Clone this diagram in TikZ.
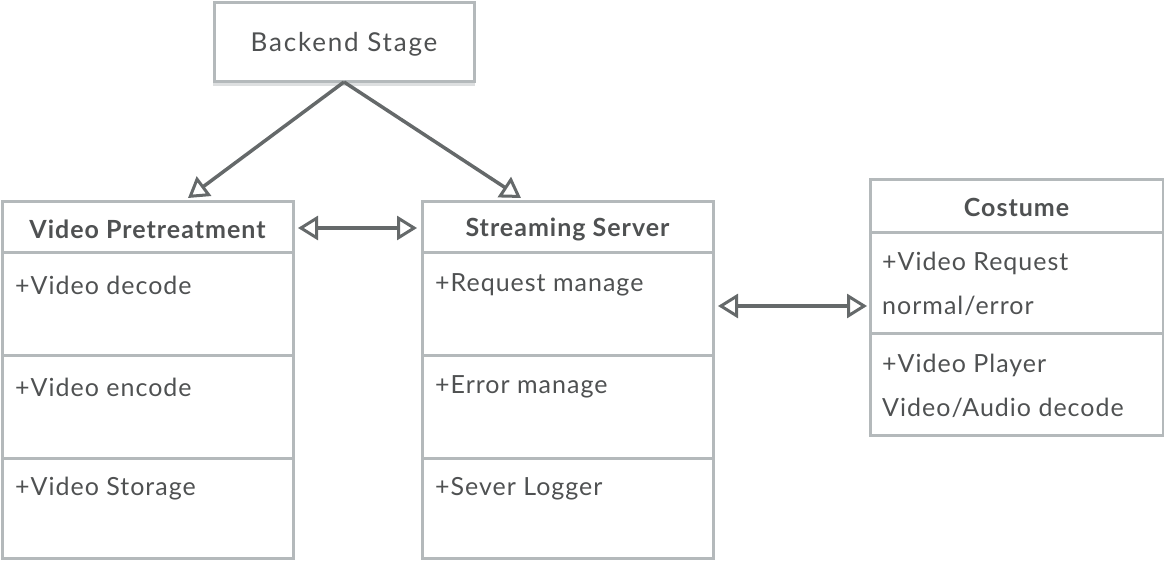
\documentclass[tikz,border=0pt]{standalone}
\usepackage{fontspec}
\setmainfont{Lato}[LetterSpace=4]
\newfontfamily\bsfont{Lato}[LetterSpace=7]
\usetikzlibrary{arrows.meta}
\definecolor{bord}{HTML}{B4B9BB}
\definecolor{txt}{HTML}{4F5152}
\definecolor{arr}{HTML}{65696A}
\definecolor{shad}{HTML}{DDDFE0}
\begin{document}
\begin{tikzpicture}[x=1pt,y=-1pt,
  boxline/.style={draw=bord,line width=3pt},
  title/.style={font=\fontsize{25}{29}\selectfont\bfseries,text=txt,inner sep=0pt},
  body/.style={font=\fontsize{25}{29}\selectfont,text=txt,anchor=west,inner sep=0pt},
  conn/.style={draw=arr,line width=3.5pt,-{Triangle[open,length=20pt,width=24pt,line width=3pt]}},
  dconn/.style={draw=arr,line width=3.5pt,{Triangle[open,length=20pt,width=24pt,line width=3pt]}-{Triangle[open,length=20pt,width=24pt,line width=3pt]}}]
\useasboundingbox (0,0) rectangle (1164,564);
% Backend Stage
\fill[shad] (213,80) rectangle (475,86);
\node[boxline,fill=white,minimum width=260pt,minimum height=79pt,inner sep=0pt] (bs) at (344,42) {};
\node[text=txt,inner sep=0pt,font=\bsfont\fontsize{26}{30}\selectfont] (bst) at (344,44) {Backend Stage};
% Video Pretreatment
\draw[boxline] (2,202) rectangle (293,558);
\draw[boxline] (2,252) -- (293,252) (2,355) -- (293,355) (2,458) -- (293,458);
\node[minimum width=291pt,minimum height=50pt,inner sep=0pt] (vp) at (147.5,227) {};
\node[title] (vpt) at (147.5,229) {Video Pretreatment};
\node[body] (vp1) at (15,285) {+Video decode};
\node[body] (vp2) at (15,387) {+Video encode};
\node[body] (vp3) at (15,489) {+Video Storage};
% Streaming Server
\draw[boxline] (422,202) rectangle (713,558);
\draw[boxline] (422,252) -- (713,252) (422,355) -- (713,355) (422,458) -- (713,458);
\node[minimum width=291pt,minimum height=50pt,inner sep=0pt] (ss) at (567.5,227) {};
\node[title] (sst) at (567.5,229) {Streaming Server};
\node[body] (ss1) at (435,285) {+Request manage};
\node[body] (ss2) at (435,387) {+Error manage};
\node[body] (ss3) at (435,489) {+Sever Logger};
% Costume
\draw[boxline] (870,180) rectangle (1163,435);
\draw[boxline] (870,232) -- (1163,232) (870,333) -- (1163,333);
\node[minimum width=293pt,minimum height=52pt,inner sep=0pt] (co) at (1016.5,206) {};
\node[title] (cot) at (1016.5,207) {Costume};
\node[body] (co1) at (882,263) {+Video Request};
\node[body] (co2) at (882,306) {normal/error};
\node[body] (co3) at (882,365) {+Video Player};
\node[body] (co4) at (882,408) {Video/Audio decode};
% connectors
\coordinate (apex) at (344,82);
\coordinate (vptop) at (188,198);
\coordinate (sstop) at (521,198);
\draw[conn] (apex) -- (vptop);
\draw[conn] (apex) -- (sstop);
\coordinate (a1) at (298,228);
\coordinate (a2) at (417,228);
\draw[dconn] (a1) -- (a2);
\coordinate (b1) at (718,306);
\coordinate (b2) at (867,306);
\draw[dconn] (b1) -- (b2);
\end{tikzpicture}
\end{document}
